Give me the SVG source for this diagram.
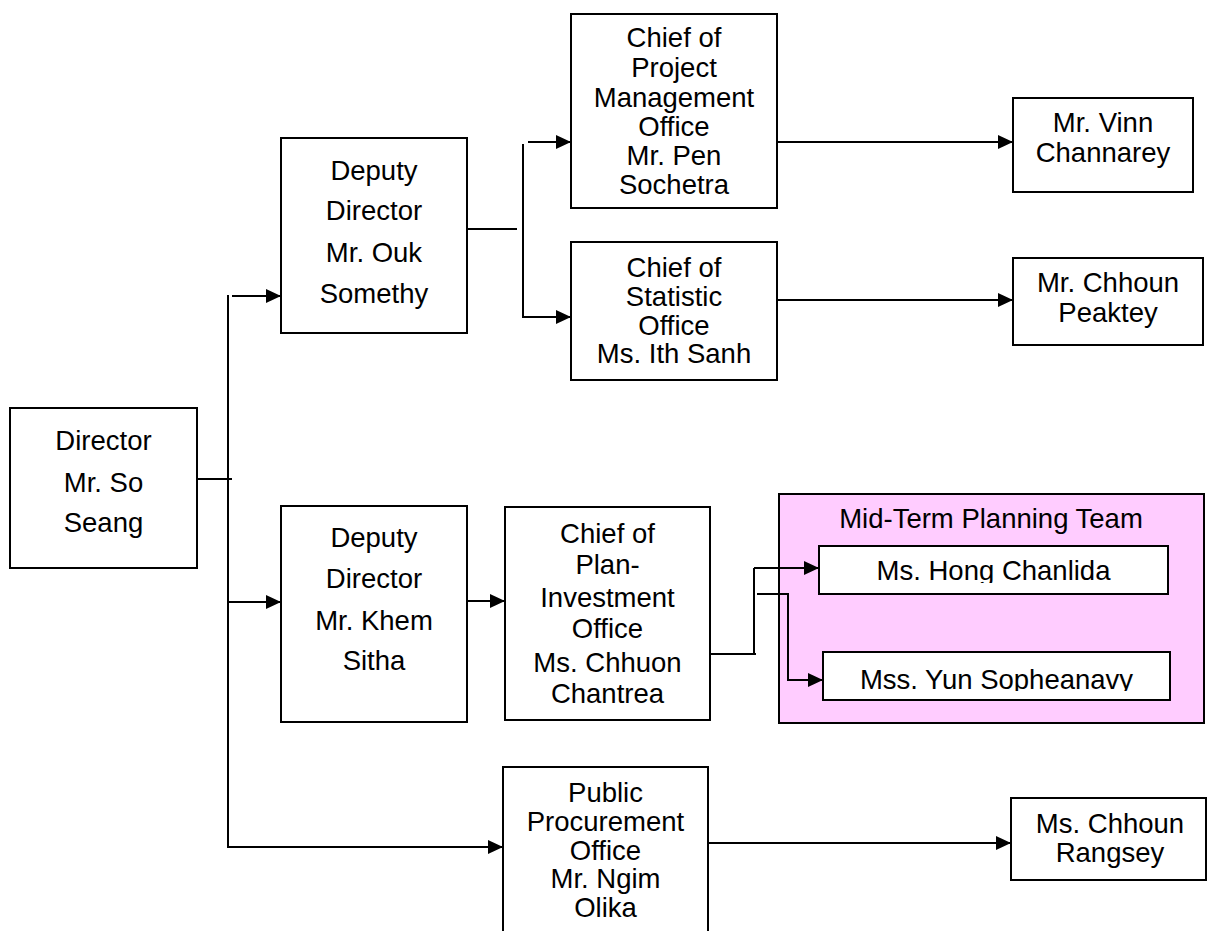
<svg xmlns="http://www.w3.org/2000/svg" width="1209" height="931" viewBox="0 0 1209 931">
  <style>
    .box { fill: #ffffff; stroke: #000000; stroke-width: 2; }
    .team { fill: #ffccff; stroke: #000000; stroke-width: 2; }
    .lbl { font-family: "Liberation Sans", Arial, sans-serif; font-size: 27.5px; fill: #000000; text-anchor: middle; }
    .conn { fill: none; stroke: #000000; stroke-width: 2; }
  </style>
  <defs>
    <marker id="arrow" markerWidth="15" markerHeight="14" refX="15" refY="7" orient="auto" markerUnits="userSpaceOnUse">
      <path d="M0,0 L15,7 L0,14 Z" fill="#000000"/>
    </marker>
    <clipPath id="clipHong"><rect x="819" y="546" width="349" height="37"/></clipPath>
    <clipPath id="clipYun"><rect x="823" y="652" width="347" height="39"/></clipPath>
  </defs>

  <!-- Mid-term planning team panel -->
  <g id="team">
    <rect class="team" x="779" y="494" width="425" height="229"/>
    <text class="lbl" x="991" y="528">Mid-Term Planning Team</text>
  </g>

  <g id="director">
    <rect class="box" x="10" y="408" width="187" height="160"/>
    <text class="lbl" x="103.5" y="450">Director</text>
    <text class="lbl" x="103.5" y="492">Mr. So</text>
    <text class="lbl" x="103.5" y="532">Seang</text>
  </g>

  <g id="deputy-ouk">
    <rect class="box" x="281" y="138" width="186" height="195"/>
    <text class="lbl" x="374" y="180">Deputy</text>
    <text class="lbl" x="374" y="220">Director</text>
    <text class="lbl" x="374" y="262">Mr. Ouk</text>
    <text class="lbl" x="374" y="303">Somethy</text>
  </g>

  <g id="deputy-khem">
    <rect class="box" x="281" y="506" width="186" height="216"/>
    <text class="lbl" x="374" y="547">Deputy</text>
    <text class="lbl" x="374" y="588">Director</text>
    <text class="lbl" x="374" y="630">Mr. Khem</text>
    <text class="lbl" x="374" y="670">Sitha</text>
  </g>

  <g id="project-office">
    <rect class="box" x="571" y="14" width="206" height="194"/>
    <text class="lbl" x="674" y="47">Chief of</text>
    <text class="lbl" x="674" y="77">Project</text>
    <text class="lbl" x="674" y="107">Management</text>
    <text class="lbl" x="674" y="136">Office</text>
    <text class="lbl" x="674" y="165">Mr. Pen</text>
    <text class="lbl" x="674" y="194">Sochetra</text>
  </g>

  <g id="statistic-office">
    <rect class="box" x="571" y="242" width="206" height="138"/>
    <text class="lbl" x="674" y="277">Chief of</text>
    <text class="lbl" x="674" y="306">Statistic</text>
    <text class="lbl" x="674" y="335">Office</text>
    <text class="lbl" x="674" y="363">Ms. Ith Sanh</text>
  </g>

  <g id="plan-investment-office">
    <rect class="box" x="505" y="507" width="205" height="213"/>
    <text class="lbl" x="607.5" y="543">Chief of</text>
    <text class="lbl" x="607.5" y="574">Plan-</text>
    <text class="lbl" x="607.5" y="607">Investment</text>
    <text class="lbl" x="607.5" y="638">Office</text>
    <text class="lbl" x="607.5" y="672">Ms. Chhuon</text>
    <text class="lbl" x="607.5" y="703">Chantrea</text>
  </g>

  <g id="procurement-office">
    <rect class="box" x="503" y="767" width="205" height="180"/>
    <text class="lbl" x="605.5" y="802">Public</text>
    <text class="lbl" x="605.5" y="831">Procurement</text>
    <text class="lbl" x="605.5" y="860">Office</text>
    <text class="lbl" x="605.5" y="888">Mr. Ngim</text>
    <text class="lbl" x="605.5" y="917">Olika</text>
  </g>

  <g id="vinn">
    <rect class="box" x="1013" y="98" width="180" height="94"/>
    <text class="lbl" x="1103" y="132">Mr. Vinn</text>
    <text class="lbl" x="1103" y="162">Channarey</text>
  </g>

  <g id="peaktey">
    <rect class="box" x="1013" y="258" width="190" height="87"/>
    <text class="lbl" x="1108" y="292">Mr. Chhoun</text>
    <text class="lbl" x="1108" y="322">Peaktey</text>
  </g>

  <g id="rangsey">
    <rect class="box" x="1011" y="798" width="195" height="82"/>
    <text class="lbl" x="1110" y="833">Ms. Chhoun</text>
    <text class="lbl" x="1110" y="862">Rangsey</text>
  </g>

  <g id="hong">
    <rect class="box" x="819" y="546" width="349" height="48"/>
    <text class="lbl" x="993.5" y="580" clip-path="url(#clipHong)">Ms. Hong Chanlida</text>
  </g>

  <g id="yun">
    <rect class="box" x="823" y="652" width="347" height="48"/>
    <text class="lbl" x="996.5" y="689" clip-path="url(#clipYun)">Mss. Yun Sopheanavy</text>
  </g>

  <g id="connectors">
    <!-- director trunk -->
    <line class="conn" x1="197" y1="479" x2="232" y2="479"/>
    <line class="conn" x1="228" y1="295" x2="228" y2="848"/>
    <line class="conn" x1="232" y1="296" x2="281" y2="296" marker-end="url(#arrow)"/>
    <line class="conn" x1="228" y1="602" x2="281" y2="602" marker-end="url(#arrow)"/>
    <line class="conn" x1="228" y1="847" x2="503" y2="847" marker-end="url(#arrow)"/>

    <!-- first deputy branch -->
    <line class="conn" x1="467" y1="229" x2="517" y2="229"/>
    <line class="conn" x1="523" y1="144" x2="523" y2="318"/>
    <line class="conn" x1="528" y1="142" x2="571" y2="142" marker-end="url(#arrow)"/>
    <line class="conn" x1="523" y1="317" x2="571" y2="317" marker-end="url(#arrow)"/>
    <line class="conn" x1="777" y1="142" x2="1013" y2="142" marker-end="url(#arrow)"/>
    <line class="conn" x1="777" y1="300" x2="1013" y2="300" marker-end="url(#arrow)"/>

    <!-- second deputy branch -->
    <line class="conn" x1="467" y1="601" x2="505" y2="601" marker-end="url(#arrow)"/>
    <line class="conn" x1="710" y1="654" x2="756" y2="654"/>
    <line class="conn" x1="754" y1="568" x2="754" y2="655"/>
    <line class="conn" x1="754" y1="568" x2="819" y2="568" marker-end="url(#arrow)"/>
    <polyline class="conn" points="757,594 788,594 788,680 823,680" marker-end="url(#arrow)"/>

    <!-- procurement -->
    <line class="conn" x1="708" y1="843" x2="1011" y2="843" marker-end="url(#arrow)"/>
  </g>
</svg>
